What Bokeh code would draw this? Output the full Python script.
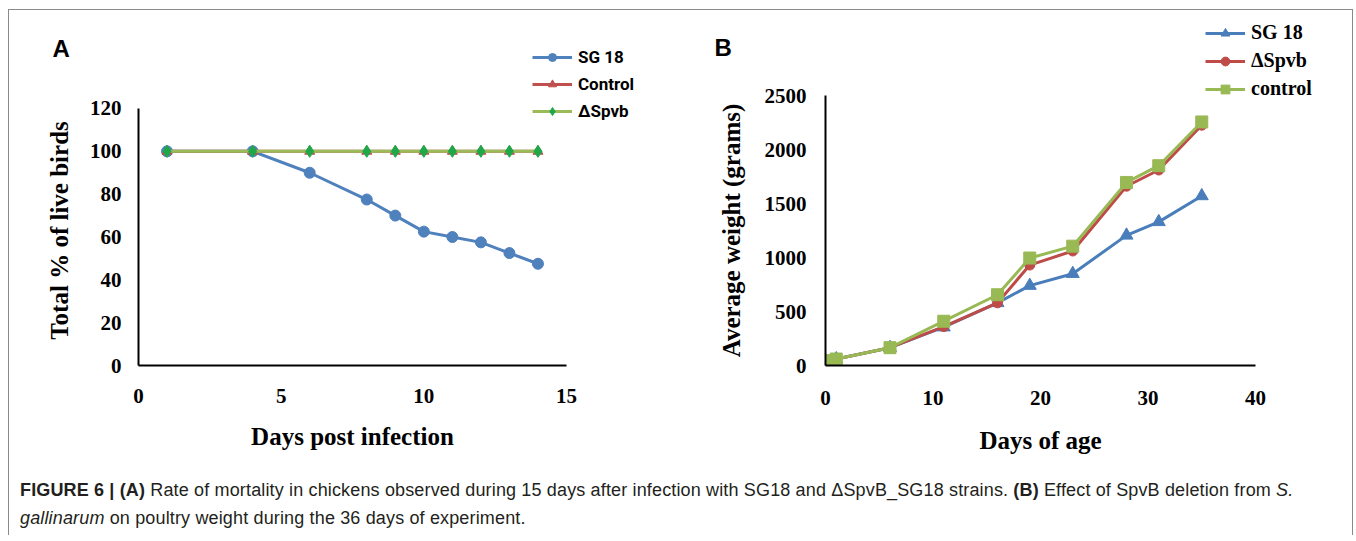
from bokeh.plotting import figure
from bokeh.models import Range1d, FixedTicker, Legend, LegendItem, Label, Div
from bokeh.layouts import row, column
from bokeh.embed import file_html
from bokeh.resources import INLINE

# ---------------- Panel A data (mortality) ----------------
days_a = [1, 4, 6, 8, 9, 10, 11, 12, 13, 14]
sg18_a = [100, 100, 90, 77.5, 70, 62.5, 60, 57.5, 52.5, 47.5]
control_a = [100, 100, 100, 100, 100, 100, 100, 100, 100, 100]
spvb_a = [100, 100, 100, 100, 100, 100, 100, 100, 100, 100]
a_xticks = [0, 5, 10, 15]
a_yticks = [0, 20, 40, 60, 80, 100, 120]

# ---------------- Panel B data (weight) ----------------
days_b = [0, 1, 6, 11, 16, 19, 23, 28, 31, 35]
sg18_b = [45, 60, 165, 355, 580, 740, 850, 1205, 1330, 1570]
spvb_b = [45, 60, 165, 360, 580, 930, 1060, 1660, 1810, 2225]
control_b = [45, 60, 165, 410, 655, 995, 1105, 1695, 1850, 2255]
b_xticks = [0, 10, 20, 30, 40]
b_yticks = [0, 500, 1000, 1500, 2000, 2500]

SERIF = "Liberation Serif"

# styles: (colour, marker, marker size, marker colour)
A_STY = {"SG 18": ("#4F81BD", "circle", 11, "#4F81BD"),
         "Control": ("#C0504D", "triangle", 10, "#C0504D"),
         "\u0394Spvb": ("#9BBB59", "diamond", 12, "#1EA84A")}
B_STY = {"SG 18": ("#4A7EBB", "triangle", 13, "#4A7EBB"),
         "\u0394Spvb": ("#BE4B48", "circle", 10, "#BE4B48"),
         "control": ("#98B954", "square", 12, "#98B954")}
A_DATA = {"SG 18": sg18_a, "Control": control_a, "\u0394Spvb": spvb_a}
B_DATA = {"SG 18": sg18_b, "\u0394Spvb": spvb_b, "control": control_b}


def style_axes(p, xticks, yticks, xlabel, ylabel, xls, xas, yls, yas):
    p.xaxis.ticker = FixedTicker(ticks=xticks)
    p.yaxis.ticker = FixedTicker(ticks=yticks)
    p.xaxis.axis_label = xlabel
    p.yaxis.axis_label = ylabel
    for ax in (p.xaxis[0], p.yaxis[0]):
        ax.major_tick_line_color = None
        ax.minor_tick_line_color = None
        ax.major_tick_out = 0
        ax.major_tick_in = 0
        ax.minor_tick_out = 0
        ax.axis_line_color = "black"
        ax.axis_line_width = 2
        ax.major_label_text_font = SERIF
        ax.major_label_text_font_style = "bold"
        ax.major_label_text_font_size = "21px"
        ax.major_label_text_color = "black"
        ax.axis_label_text_font = SERIF
        ax.axis_label_text_font_style = "bold"
        ax.axis_label_text_font_size = "25px"
        ax.axis_label_text_color = "black"
    p.xaxis.major_label_standoff = xls
    p.xaxis.axis_label_standoff = xas
    p.yaxis.major_label_standoff = yls
    p.yaxis.axis_label_standoff = yas
    p.grid.visible = False
    p.outline_line_color = None
    p.background_fill_alpha = 0
    p.border_fill_alpha = 0


def draw_series(p, xs, ys, sty, visible=True):
    col, mk, sz, mcol = sty
    r1 = p.line(xs, ys, line_color=col, line_width=3, visible=visible)
    r2 = p.scatter(xs, ys, marker=mk, size=sz, fill_color=mcol, line_color=mcol, visible=visible)
    return [r1, r2]


# ---------------- Panel A ----------------
pA = figure(width=672, height=455, x_range=Range1d(0, 15), y_range=Range1d(0, 126.07),
            output_backend="svg", toolbar_location=None,
            min_border_left=129, min_border_right=115, min_border_top=85, min_border_bottom=100)
style_axes(pA, a_xticks, a_yticks, "Days post infection", "Total % of live birds", 23, 17, 17, 14)
pA.yaxis.bounds = (0, 120)
for name in A_STY:
    draw_series(pA, days_a, A_DATA[name], A_STY[name])

# ---------------- Panel B ----------------
pB = figure(width=671, height=455, x_range=Range1d(0, 40), y_range=Range1d(0, 2500),
            output_backend="svg", toolbar_location=None,
            min_border_left=144, min_border_right=97, min_border_top=85, min_border_bottom=100)
style_axes(pB, b_xticks, b_yticks, "Days of age", "Average weight (grams)", 25, 19, 19, 17)
for name in B_STY:
    draw_series(pB, days_b, B_DATA[name], B_STY[name])

# ---------------- Legends and panel tags (transparent layer behind the panels) ----------------
ov = figure(width=1343, height=125, x_range=Range1d(0, 40), y_range=Range1d(0, 2500),
            x_axis_location=None, y_axis_location=None, output_backend="svg",
            toolbar_location=None, min_border=0, margin=(0, 0, -125, 0))
ov.grid.visible = False
ov.outline_line_color = None
ov.background_fill_alpha = 0
ov.border_fill_alpha = 0


def legend_items(sty, xs, data):
    # hidden copies of the series, used only as legend swatches
    return [LegendItem(label=name, renderers=draw_series(ov, xs, data[name], s, visible=False))
            for name, s in sty.items()]


common = dict(padding=0, margin=0, border_line_alpha=0, background_fill_alpha=0,
              inactive_fill_alpha=0, label_standoff=6, glyph_width=40, label_text_color="black")
ov.add_layout(Legend(items=legend_items(A_STY, days_a, A_DATA), location=(523, 14),
                     glyph_height=20, label_height=20, spacing=7,
                     label_text_font="Roboto", label_text_font_style="bold",
                     label_text_font_size="17px", **common))
ov.add_layout(Legend(items=legend_items(B_STY, days_b, B_DATA), location=(1196, 35),
                     glyph_height=22, label_height=22, spacing=5,
                     label_text_font=SERIF, label_text_font_style="bold",
                     label_text_font_size="20px", **common))
for tag, tx, ty in (("A", 43, 87), ("B", 705, 88)):
    ov.add_layout(Label(x=tx, y=ty, x_units="screen", y_units="screen", text=tag,
                        text_font="Liberation Sans", text_font_style="bold",
                        text_font_size="24px", text_color="black",
                        text_align="left", text_baseline="alphabetic"))

# ---------------- Caption ----------------
caption = ('<div style="font-family: \'Liberation Sans\', Arial, sans-serif; font-size: 18px; '
           'letter-spacing: 0.15px; line-height: 28px; color: #231f20; padding: 11px 0 0 11px; '
           'white-space: nowrap;">'
           '<b>FIGURE 6 | (A)</b> Rate of mortality in chickens observed during 15 days after infection '
           'with SG18 and \u0394SpvB_SG18 strains. <b>(B)</b> Effect of SpvB deletion from <i>S.</i><br>'
           '<i>gallinarum</i> on poultry weight during the 36 days of experiment.</div>')
div = Div(text=caption, width=1343, height=70, margin=(0, 0, 0, 0))

layout = column(ov, row(pA, pB), div, margin=(9, 0, 0, 8),
                styles={"border-top": "1px solid #8a8a8a", "border-left": "1px solid #8a8a8a",
                        "border-right": "1px solid #8a8a8a"})

open("out.html", "w").write(file_html(layout, INLINE))
